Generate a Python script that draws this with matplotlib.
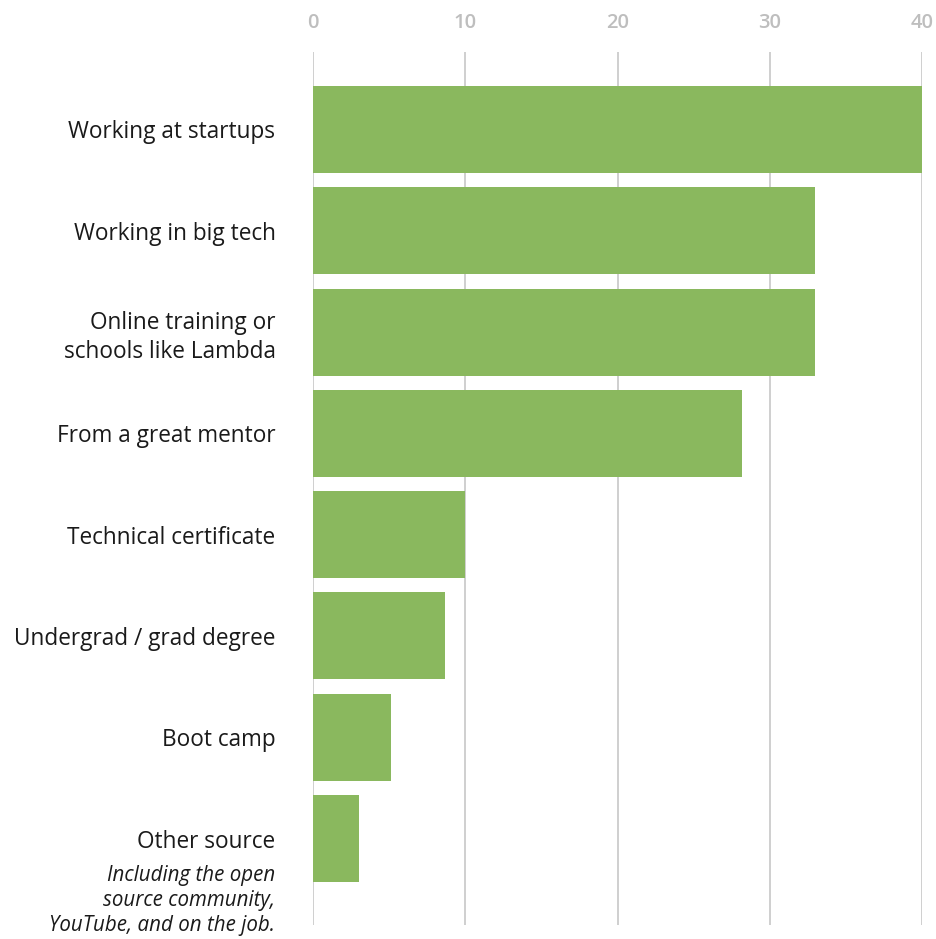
import matplotlib
matplotlib.use("Agg")
import matplotlib.pyplot as plt
from matplotlib.transforms import blended_transform_factory, offset_copy

categories = ["Working at startups", "Working in big tech", "Online training or\nschools like Lambda",
              "From a great mentor", "Technical certificate", "Undergrad / grad degree",
              "Boot camp", "Other source"]
values = [40.0, 33.0, 33.0, 28.2, 10.0, 8.7, 5.1, 3.0]
note = "Including the open\nsource community,\nYouTube, and on the job."
xticks = [0, 10, 20, 30, 40]

plt.rcParams['font.family'] = ['Open Sans', 'DejaVu Sans']

fig = plt.figure(figsize=(9.37, 9.39), dpi=100)
W, H = 937, 939
ax = fig.add_axes([313 / W, 1 - 925 / H, (922 - 313) / W, (925 - 52) / H])

ypos = list(range(len(categories)))
ax.barh(ypos, values, height=0.86, color="#8AB85E", zorder=2)
ax.set_xlim(0, 40)
ax.set_ylim(7.854, -0.765)

ax.set_xticks(xticks)
ax.xaxis.tick_top()
ax.tick_params(axis='x', length=0, pad=14, labelsize=14.5, labelcolor="#BEBEBE")
for lab in ax.get_xticklabels():
    lab.set_fontweight('semibold')
ax.grid(axis='x', color="#CFCFCF", linewidth=1.4, zorder=0)
ax.set_axisbelow(True)
for s in ax.spines.values():
    s.set_visible(False)

ax.set_yticks(ypos)
ax.set_yticklabels(categories, fontsize=16.3, color="#1a1a1a", linespacing=1.25, ha='right')
ax.tick_params(axis='y', length=0, pad=27)

trans = blended_transform_factory(ax.transAxes, ax.transData)
trans = offset_copy(trans, fig=fig, x=-38, y=0, units='dots')
ax.text(0, 7, note, transform=offset_copy(trans, fig=fig, x=0, y=-26, units='dots'),
        ha='right', va='top', fontsize=14.8, style='italic', color="#1a1a1a",
        linespacing=1.28, clip_on=False)

fig.savefig("out.png", dpi=100, facecolor="white")
